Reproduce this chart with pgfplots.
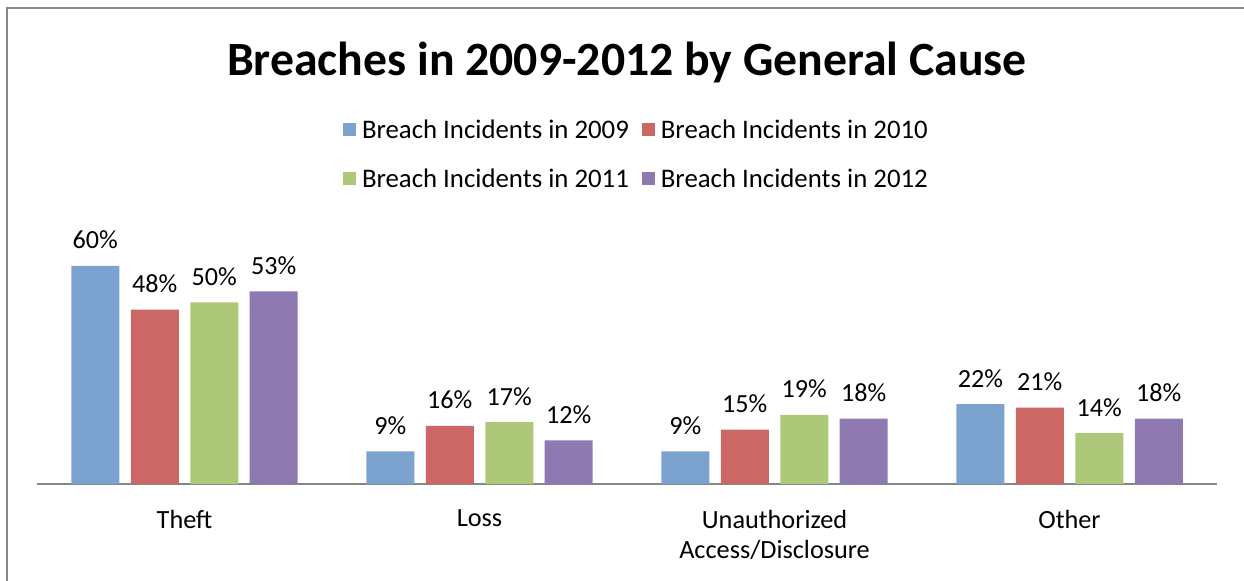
\documentclass[border=0pt]{standalone}
\usepackage{pgfplots}
\pgfplotsset{compat=1.18}
\usepackage{fontspec}
\setmainfont{Carlito}

\definecolor{c2009}{RGB}{124,163,207}
\definecolor{c2010}{RGB}{203,103,101}
\definecolor{c2011}{RGB}{173,200,120}
\definecolor{c2012}{RGB}{142,121,176}
\definecolor{frame}{RGB}{134,134,134}

\begin{document}
\begin{tikzpicture}
\useasboundingbox (0pt,0pt) rectangle (933pt,-435.75pt);
% chart frame (only left and top edges are visible)
\draw[frame, line width=1.5pt] (5.25pt,-440pt) -- (5.25pt,-6pt) -- (940pt,-6pt);

\node[anchor=base, font=\fontsize{35.8}{40}\selectfont\bfseries]
  at (470.25pt,-57pt) {Breaches in 2009-2012 by General Cause};

\begin{axis}[
    at={(138.4pt,-363pt)}, anchor=origin,
    x=221.25pt, y=2.725pt,
    xmin=-0.5, xmax=3.5, ymin=0, ymax=65,
    clip=false,
    ybar=8.6pt, bar width=36pt,
    axis x line*=bottom, axis y line=none,
    x axis line style={draw=frame, line width=1.2pt},
    xtick={0,1,2,3},
    xticklabels={Theft, Loss, {Unauthorized\\Access/Disclosure}, Other},
    xtick style={draw=none},
    xticklabel style={anchor=north, inner sep=0pt, yshift=-15pt, align=center,
      font=\fontsize{19.7}{22.5}\selectfont},
    /pgf/number format/assume math mode=true,
    nodes near coords={\pgfmathprintnumber{\pgfplotspointmeta}\%},
    every node near coord/.append style={anchor=base, yshift=12.75pt, inner sep=0pt,
      font=\fontsize{19.6}{22}\selectfont, text=black},
    legend columns=2,
    legend image code/.code={\fill[#1] (0pt,-6.25pt) rectangle (9.75pt,3.5pt);},
    legend style={at={(0.2593,1.5495)}, anchor=north west, draw=none, fill=none,
      inner sep=0pt, outer sep=0pt, row sep=21.75pt, column sep=4.5pt,
      font=\fontsize{20.1}{24}\selectfont,
      nodes={inner sep=0pt, text height=15pt, text depth=0pt},
      /tikz/every even column/.append style={column sep=9.75pt}},
    legend cell align=left,
]
\addplot[fill=c2009, draw=none] coordinates {(0,60) (1,9) (2,9) (3,22)};
\addplot[fill=c2010, draw=none] coordinates {(0,48) (1,16) (2,15) (3,21)};
\addplot[fill=c2011, draw=none] coordinates {(0,50) (1,17) (2,19) (3,14)};
\addplot[fill=c2012, draw=none] coordinates {(0,53) (1,12) (2,18) (3,18)};
\legend{Breach Incidents in 2009, Breach Incidents in 2010,
        Breach Incidents in 2011, Breach Incidents in 2012}
\end{axis}
\end{tikzpicture}
\end{document}
